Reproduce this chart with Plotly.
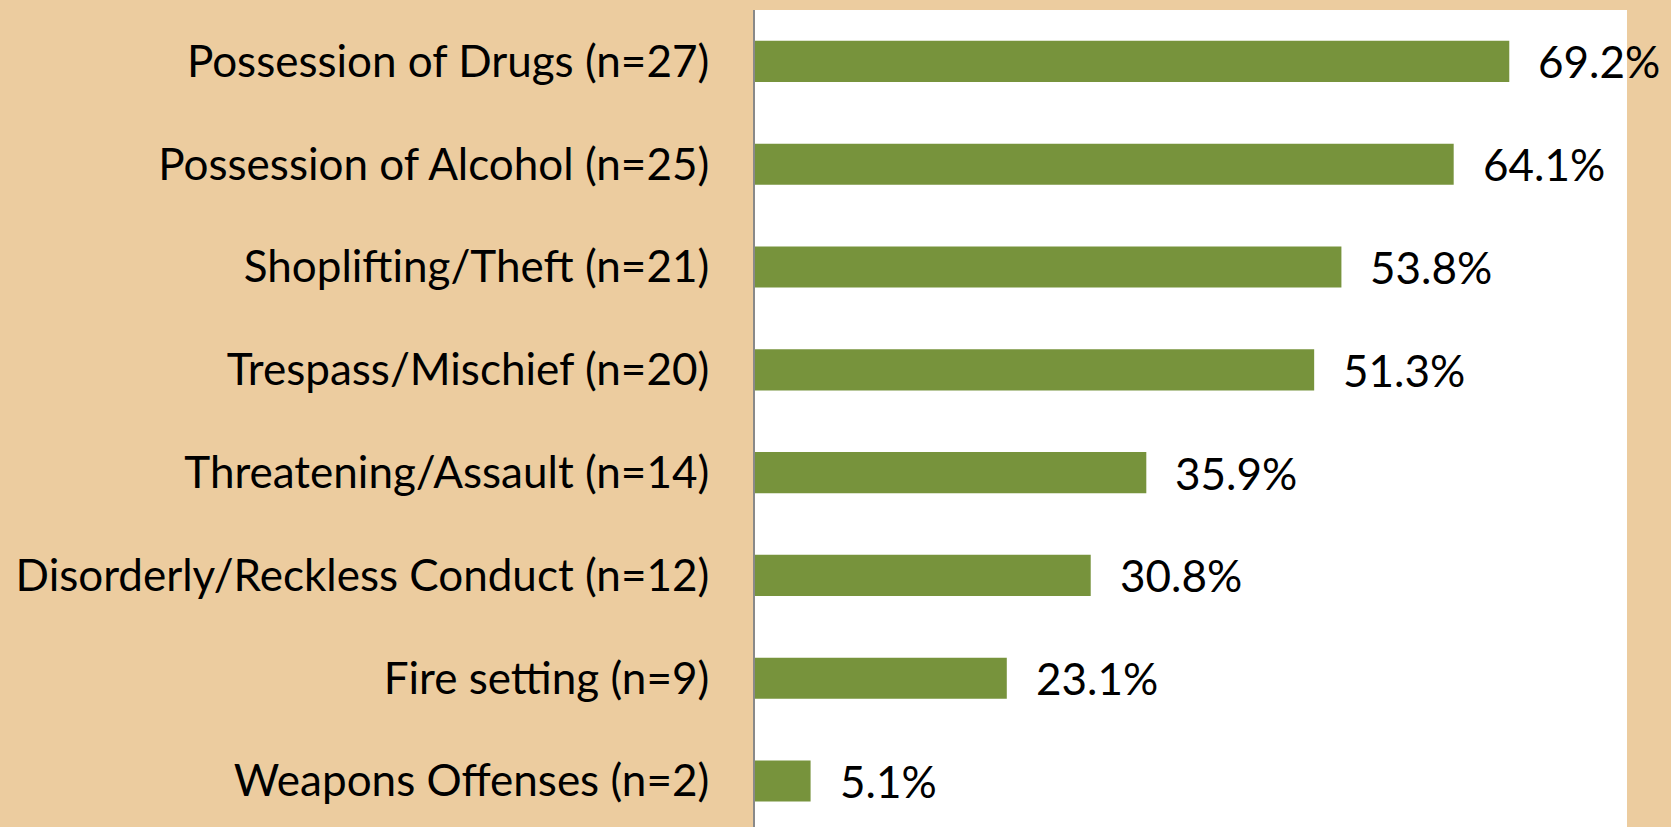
import plotly.graph_objects as go

categories = [
    "Possession of Drugs (n=27)",
    "Possession of Alcohol (n=25)",
    "Shoplifting/Theft (n=21)",
    "Trespass/Mischief (n=20)",
    "Threatening/Assault (n=14)",
    "Disorderly/Reckless Conduct (n=12)",
    "Fire setting (n=9)",
    "Weapons Offenses (n=2)",
]
values = [69.2, 64.1, 53.8, 51.3, 35.9, 30.8, 23.1, 5.1]
value_labels = [f"{v:.1f}%" for v in values]

BG = "#ECCC9F"
BAR = "#77933C"
FONT = "Lato"

fig = go.Figure()
fig.add_trace(go.Bar(
    x=values,
    y=categories,
    orientation="h",
    marker=dict(color=BAR, line=dict(width=0)),
    hoverinfo="skip",
))

for v, c, t in zip(values, categories, value_labels):
    fig.add_annotation(
        x=v, y=c, text=t, showarrow=False,
        xanchor="left", yanchor="middle", xshift=27,
        font=dict(family=FONT, size=44, color="#000000"),
    )

fig.update_layout(
    width=1671, height=827,
    paper_bgcolor=BG, plot_bgcolor="#FFFFFF",
    margin=dict(l=755, r=44, t=10, b=0, pad=0),
    bargap=0.6,
    showlegend=False,
    xaxis=dict(range=[0, 80], showticklabels=False, showgrid=False,
               zeroline=False, showline=False, ticks=""),
    yaxis=dict(type="category", categoryorder="array",
               categoryarray=categories[::-1], range=[-0.447, 7.5],
               showgrid=False, zeroline=False, showline=True,
               linecolor="#898989", linewidth=2, ticks="",
               ticklabelstandoff=35,
               tickfont=dict(family=FONT, size=44, color="#000000")),
)

fig.write_html("out.html")
